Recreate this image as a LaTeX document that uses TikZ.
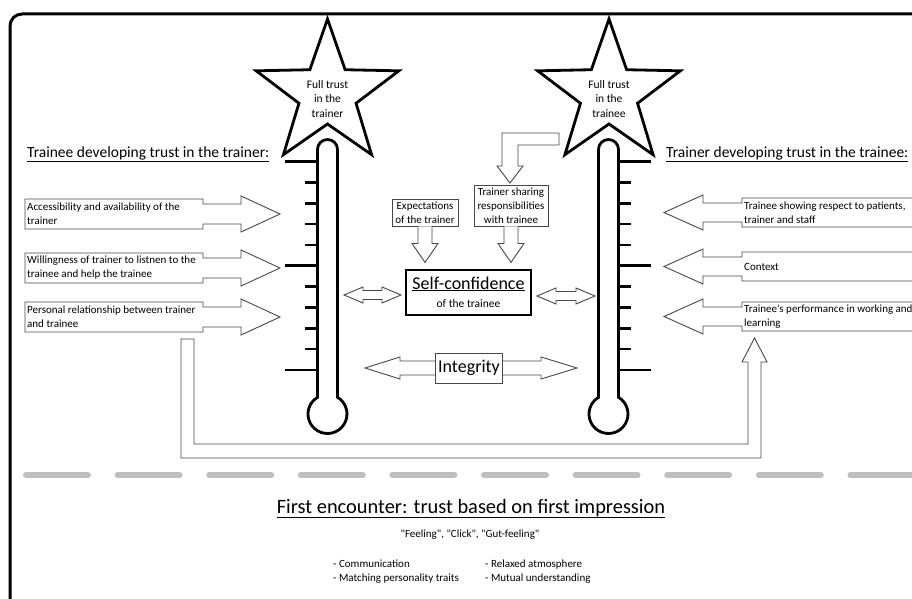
\documentclass[tikz,border=0pt]{standalone}
\usepackage{fontspec}
\setmainfont{Carlito}[Ligatures=TeXOff]
\newcommand{\fsmall}{\fontsize{11}{14}\selectfont}
\newcommand{\fstar}{\fontsize{11.5}{14.5}\selectfont}
\newcommand{\fhead}{\fontsize{15.5}{18}\selectfont}
\newcommand{\fself}{\fontsize{18}{20}\selectfont}
\newcommand{\ftitle}{\fontsize{20.4}{24}\selectfont}
\begin{document}
\begin{tikzpicture}[x=1pt,y=-1pt,
  blk/.style={draw=black!72, line width=0.9pt, fill=white, line join=miter},
  thermo/.style={line width=2.8pt, fill=white},
  tickl/.style={line width=2.6pt},
  starline/.style={line width=2.8pt, line join=miter, fill=white},
  txt/.style={inner sep=0pt, font=\fsmall, align=left},
  cbox/.style={draw=black!72, line width=0.9pt, fill=white, inner sep=0pt, font=\fsmall, align=left},
  dashln/.style={line width=6pt, color=black!25, line cap=round}
]
\useasboundingbox (0,0) rectangle (912,599);
% frame
\draw[line width=3pt, rounded corners=12pt] (10,640) -- (10,14) -- (940,14);

% stars
\begin{scope}[shift={(327.5,94)},yscale=-1]
\draw[starline] (90:75) -- (126:30) -- (162:75) -- (198:30) -- (234:75) -- (270:30) -- (306:75) -- (342:30) -- (18:75) -- (54:30) -- cycle;
\end{scope}
\begin{scope}[shift={(609,94)},yscale=-1]
\draw[starline] (90:75) -- (126:30) -- (162:75) -- (198:30) -- (234:75) -- (270:30) -- (306:75) -- (342:30) -- (18:75) -- (54:30) -- cycle;
\end{scope}
\node[inner sep=0pt, font=\fstar, align=center] (st1) at (327.5,99) {Full trust\\in the\\trainer};
\node[inner sep=0pt, font=\fstar, align=center] (st2) at (609,99) {Full trust\\in the\\trainee};

% thermometers
\draw[thermo] (317.5,397.26) -- (317.5,149.5) arc[start angle=180,end angle=360,radius=10] -- (337.5,397.26) arc[start angle=-59.1,end angle=239.1,radius=19.5] -- cycle;
\draw[thermo] (598.5,397.26) -- (598.5,149.5) arc[start angle=180,end angle=360,radius=10] -- (618.5,397.26) arc[start angle=-59.1,end angle=239.1,radius=19.5] -- cycle;
\foreach \k in {0,...,10}{
  \pgfmathsetmacro{\yy}{161.5+20.85*\k}
  \ifnum\k=0 \def\len{31}\else\ifnum\k=5 \def\len{31}\else\ifnum\k=10 \def\len{31}\else\def\len{11}\fi\fi\fi
  \draw[tickl] (316,\yy) -- ++(-\len,0);
  \draw[tickl] (620,\yy) -- ++(\len,0);
}

% headings
\node[anchor=base west, inner sep=0pt, font=\fhead] (hl) at (27,157) {\underline{Trainee developing trust in the trainer:}};
\node[anchor=base west, inner sep=0pt, font=\fhead] (hr) at (666,157) {\underline{Trainer developing trust in the trainee:}};

% left callouts
\foreach \y in {199,253,302}{
  \draw[blk] (25,\y) -- (203,\y) -- (203,\y+5) -- (241,\y+5) -- (241,\y-3) -- (280,\y+15) -- (241,\y+33) -- (241,\y+25) -- (203,\y+25) -- (203,\y+30) -- (25,\y+30) -- cycle;
}
\node[txt, anchor=west] (l1) at (27,214) {Accessibility and availability of the\\trainer};
\node[txt, anchor=west] (l2) at (27,268) {Willingness of trainer to listnen to the\\trainee and help the trainee};
\node[txt, anchor=west] (l3) at (27,317) {Personal relationship between trainer\\and trainee};

% right callouts
\foreach \y in {198,252,302}{
  \draw[blk] (925,\y) -- (742,\y) -- (742,\y+5) -- (703,\y+5) -- (703,\y-3) -- (664,\y+14.5) -- (703,\y+32) -- (703,\y+24) -- (742,\y+24) -- (742,\y+29) -- (925,\y+29);
}
\node[txt, anchor=west] (r1) at (744,212.5) {Trainee showing respect to patients,\\trainer and staff};
\node[txt, anchor=west] (r2) at (744,266.5) {Context};
\node[txt, anchor=west] (r3) at (744,316.5) {Trainee's performance in working and\\learning};

% U arrow
\draw[blk] (181,339) -- (181,458) -- (761,458) -- (761,362) -- (767,362) -- (754.5,338) -- (742,362) -- (748,362) -- (748,444) -- (194,444) -- (194,339) -- cycle;

% centre boxes
\node[cbox, minimum width=66pt, minimum height=27pt, align=center] (exp) at (425,212.5) {Expectations\\of the trainer};
\node[cbox, minimum width=74pt, minimum height=41pt, align=center] (shr) at (511,205.5) {Trainer sharing\\responsibilities\\with trainee};
\draw[blk] (exp.south) ++(-7,0) -- ++(0,17) -- ++(-6,0) -- ++(13,19) -- ++(13,-19) -- ++(-6,0) -- ++(0,-17);
\draw[blk] (shr.south) ++(-7,0) -- ++(0,17) -- ++(-6,0) -- ++(13,19) -- ++(13,-19) -- ++(-6,0) -- ++(0,-17);
% bent arrow
\draw[blk] (559,133) -- (502,133) -- (502,166) -- (497,166) -- (510,183) -- (523,166) -- (518,166) -- (518,145) -- (559,145) -- cycle;

% self-confidence
\node[draw, line width=2.6pt, minimum width=125pt, minimum height=45pt, inner sep=0pt] (sc) at (468.5,292.5) {};
\node[inner sep=0pt, font=\fself, anchor=base] (sct) at (468.5,289) {\underline{Self-confidence}};
\node[inner sep=0pt, font=\fontsize{11.5}{14}\selectfont, anchor=base] (sct2) at (468.5,307) {of the trainee};
% double arrows
\draw[blk] (344,295) -- (363,287) -- (363,290.5) -- (382,290.5) -- (382,287) -- (401,295) -- (382,303) -- (382,299.5) -- (363,299.5) -- (363,303) -- cycle;
\draw[blk] (537,296) -- (556,288) -- (556,291.5) -- (576,291.5) -- (576,288) -- (595,296) -- (576,304) -- (576,300.5) -- (556,300.5) -- (556,304) -- cycle;

% integrity
\draw[blk] (365,368) -- (400,357) -- (400,361) -- (541,361) -- (541,357) -- (577,368) -- (541,379) -- (541,375) -- (400,375) -- (400,379) -- cycle;
\node[cbox, font=\fself, inner xsep=3pt, minimum height=30pt] (integ) at (469,368) {Integrity};

% dashed separator
\foreach \k in {0,...,9}{
  \draw[dashln] ({26+91.6*\k},475) -- ({88+91.6*\k},475);
}

% bottom text
\node[inner sep=0pt, font=\ftitle, anchor=base] (ttl) at (471,513) {\underline{First encounter: trust based on first impression}};
\node[inner sep=0pt, font=\fsmall, anchor=base] (qt) at (470,537) {"Feeling", "Click", "Gut-feeling"};
\node[txt, anchor=base west] (b1) at (333,567) {- Communication};
\node[txt, anchor=base west] (b2) at (333,581) {- Matching personality traits};
\node[txt, anchor=base west] (b3) at (485,567) {- Relaxed atmosphere};
\node[txt, anchor=base west] (b4) at (485,581) {- Mutual understanding};
\end{tikzpicture}
\end{document}
